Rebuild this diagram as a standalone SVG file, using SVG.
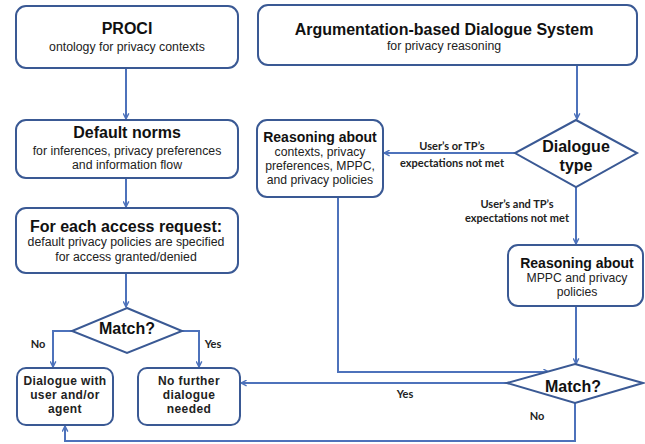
<svg xmlns="http://www.w3.org/2000/svg" width="645" height="444" viewBox="0 0 645 444">
<style>
.box{fill:#fff;stroke:#3a5994;stroke-width:2}
.ln{fill:none;stroke:#4d72bb;stroke-width:2}
.t{font-family:"Liberation Sans",Arial,sans-serif;font-weight:bold;font-size:16px;fill:#111;text-anchor:middle}
.t14{font-family:"Liberation Sans",Arial,sans-serif;font-weight:bold;font-size:14px;fill:#111;text-anchor:middle}
.s{font-family:"Liberation Sans",Arial,sans-serif;font-size:12.3px;fill:#222;text-anchor:middle}
.s12{font-family:"Liberation Sans",Arial,sans-serif;font-size:12.2px;fill:#222;text-anchor:middle}
.c{font-family:"Liberation Sans",Arial,sans-serif;font-weight:bold;font-size:12px;letter-spacing:0.4px;fill:#222;text-anchor:middle}
.l{font-family:Lato,"Open Sans",sans-serif;font-weight:bold;font-size:11px;fill:#222;text-anchor:middle}
</style>
<defs>
<marker id="ah" viewBox="0 0 10 10" refX="9" refY="5" markerWidth="7" markerHeight="7" orient="auto" markerUnits="userSpaceOnUse">
<path d="M1,1 L9,5 L1,9" fill="none" stroke="#4d72bb" stroke-width="2"/>
</marker>
</defs>
<g id="connectors">
<path class="ln" d="M126,68 V119" marker-end="url(#ah)"/>
<path class="ln" d="M126,178 V207" marker-end="url(#ah)"/>
<path class="ln" d="M126,273 V307" marker-end="url(#ah)"/>
<path class="ln" d="M577,65 V119" marker-end="url(#ah)"/>
<path class="ln" d="M515,153 H384" marker-end="url(#ah)"/>
<path class="ln" d="M576,187 V244" marker-end="url(#ah)"/>
<path class="ln" d="M576,306 V364" marker-end="url(#ah)"/>
<path class="ln" d="M338,197 V372 H549" marker-end="url(#ah)"/>
<path class="ln" d="M507,383 H241" marker-end="url(#ah)"/>
<path class="ln" d="M575,403 V441 H65 V426" marker-end="url(#ah)"/>
<path class="ln" d="M72,331 H53 V367" marker-end="url(#ah)"/>
<path class="ln" d="M182,331 H199 V367" marker-end="url(#ah)"/>
<text class="l" x="452" y="150">User’s or TP’s</text>
<text class="l" x="452" y="167">expectations not met</text>
<text class="l" x="517" y="208">User’s and TP’s</text>
<text class="l" x="517" y="222">expectations not met</text>
<text class="l" x="38" y="348">No</text>
<text class="l" x="213" y="348">Yes</text>
<text class="l" x="405" y="398">Yes</text>
<text class="l" x="537" y="420">No</text>
</g>
<g id="proci">
<rect class="box" x="16" y="6" width="222" height="62" rx="10"/>
<text class="t" x="127" y="34">PROCI</text>
<text class="s" x="127" y="51">ontology for privacy contexts</text>
</g>
<g id="ads">
<rect class="box" x="258" y="5" width="379" height="60" rx="10"/>
<text class="t" x="444" y="35">Argumentation-based Dialogue System</text>
<text class="s" x="444" y="50">for privacy reasoning</text>
</g>
<g id="norms">
<rect class="box" x="16" y="120" width="222" height="58" rx="10"/>
<text class="t" x="127" y="138">Default norms</text>
<text class="s" x="127" y="155">for inferences, privacy preferences</text>
<text class="s" x="127" y="169">and information flow</text>
</g>
<g id="access">
<rect class="box" x="16" y="208" width="222" height="65" rx="10"/>
<text class="t" x="126" y="232">For each access request:</text>
<text class="s" x="126" y="246">default privacy policies are specified</text>
<text class="s" x="126" y="261">for access granted/denied</text>
</g>
<g id="reason1">
<rect class="box" x="257" y="120" width="126" height="77" rx="10"/>
<text class="t14" x="320" y="142">Reasoning about</text>
<text class="s12" x="320" y="156">contexts, privacy</text>
<text class="s12" x="320" y="170">preferences, MPPC,</text>
<text class="s12" x="320" y="184">and privacy policies</text>
</g>
<g id="dtype">
<polygon class="box" points="576,120 637,153 576,187 515,153"/>
<text class="t" x="576" y="152">Dialogue</text>
<text class="t" x="576" y="171">type</text>
</g>
<g id="reason2">
<rect class="box" x="508" y="245" width="135" height="61" rx="10"/>
<text class="t14" x="577" y="268">Reasoning about</text>
<text class="s12" x="577" y="282">MPPC and privacy</text>
<text class="s12" x="577" y="296">policies</text>
</g>
<g id="match2">
<polygon class="box" points="575,364 643,383 575,403 507,383"/>
<text class="t" x="573" y="392">Match?</text>
</g>
<g id="match1">
<polygon class="box" points="127,308 182,331 127,353 72,331"/>
<text class="t" x="127" y="334">Match?</text>
</g>
<g id="dialogue">
<rect class="box" x="17" y="368" width="96" height="57" rx="9"/>
<text class="c" x="65" y="385">Dialogue with</text>
<text class="c" x="65" y="399">user and/or</text>
<text class="c" x="65" y="413">agent</text>
</g>
<g id="nofurther">
<rect class="box" x="138" y="368" width="102" height="57" rx="9"/>
<text class="c" x="189" y="385">No further</text>
<text class="c" x="189" y="399">dialogue</text>
<text class="c" x="189" y="413">needed</text>
</g>
</svg>
